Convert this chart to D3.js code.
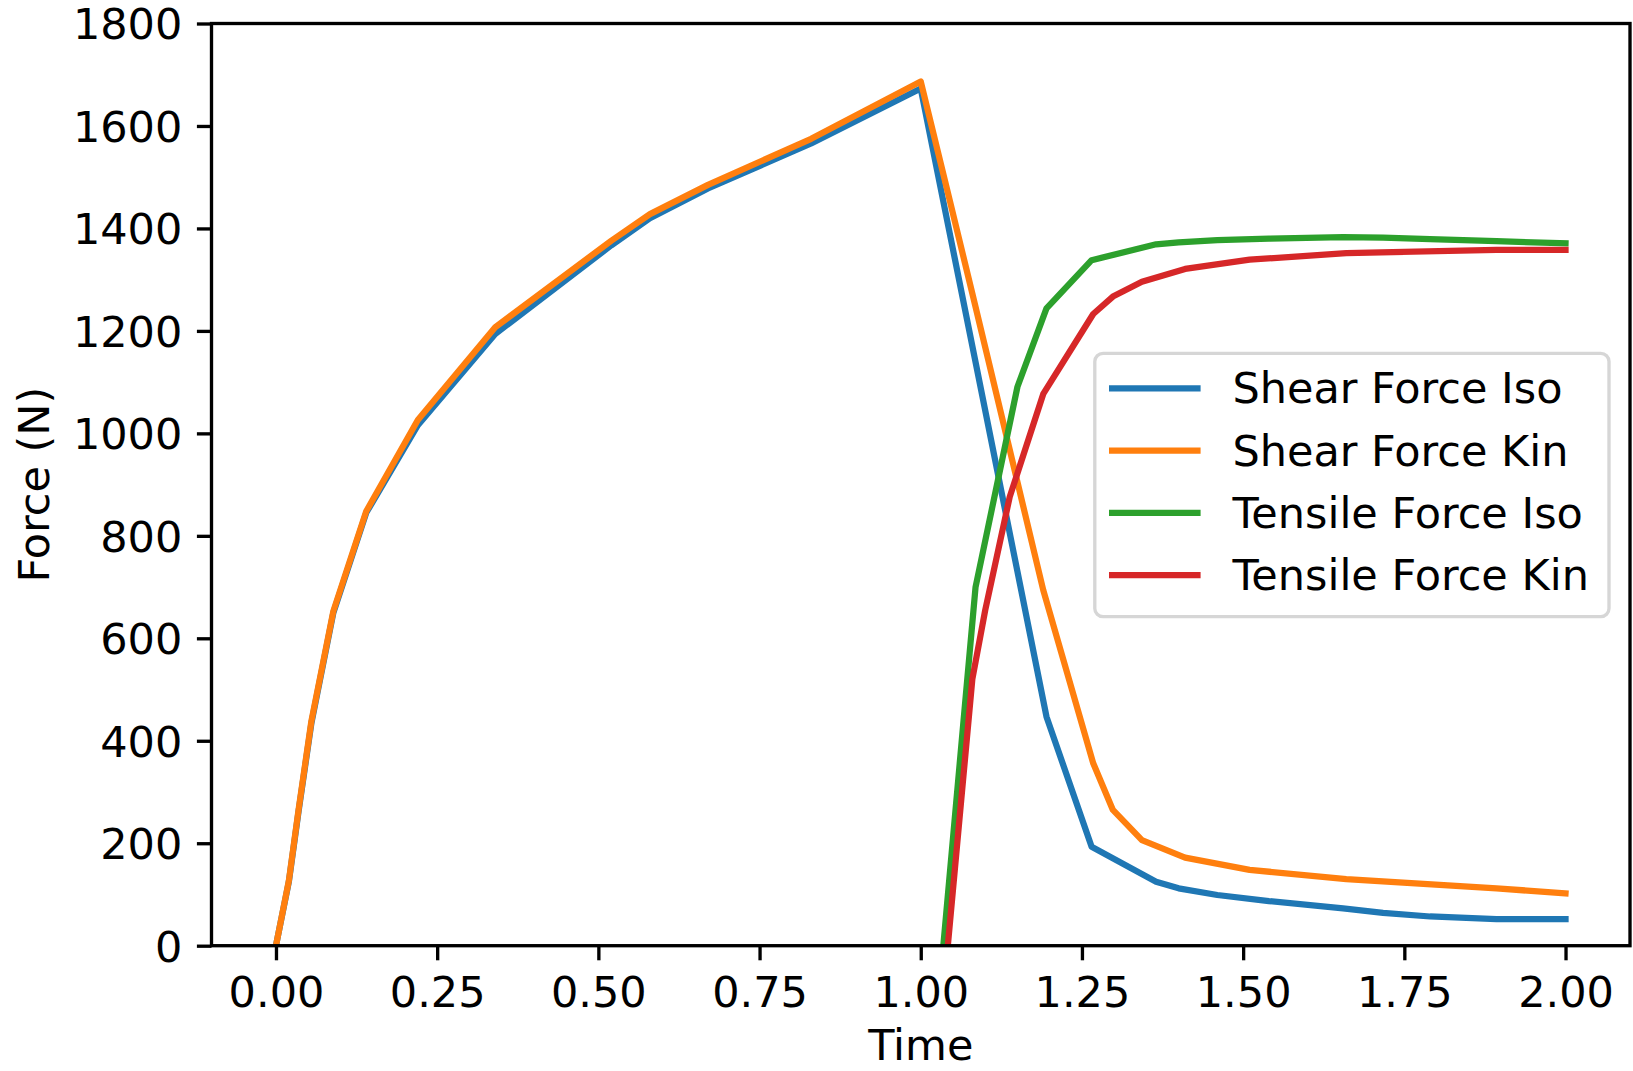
<!DOCTYPE html>
<html>
<head>
<meta charset="utf-8">
<script src="https://cdn.jsdelivr.net/npm/d3@7"></script>
<style>
  html, body { margin: 0; padding: 0; background: #ffffff; }
  svg { display: block; }
  text { font-family: "DejaVu Sans", sans-serif; fill: #000; }
</style>
</head>
<body>
<svg id="chart" width="1633" height="1071"></svg>
<script>
// Force histories for the isotropic and kinematic hardening runs
const timeIso = [0, 0.02, 0.035, 0.055, 0.089, 0.14, 0.22, 0.34, 0.52, 0.58, 0.67, 0.83, 1.0,
                 1.035, 1.085, 1.15, 1.195, 1.265, 1.365, 1.40, 1.46, 1.54, 1.655, 1.717, 1.79, 1.893, 2.0];
const shearIso = [0, 125, 262, 435, 650, 845, 1016, 1194, 1367, 1420, 1478, 1566, 1673,
                  1453, 1139, 730, 447, 193, 125, 112, 99, 87, 73, 64, 57, 52, 52];
const tensileIso = [null, null, null, null, null, null, null, null, null, null, null, null, null,
                    0, 700, 1091, 1244, 1338, 1369, 1373, 1377, 1380, 1383, 1382, 1379, 1375, 1371];

const timeKin = [0, 0.02, 0.035, 0.055, 0.089, 0.14, 0.22, 0.34, 0.52, 0.58, 0.67, 0.83, 1.0,
                 1.042, 1.08, 1.1, 1.138, 1.19, 1.2675, 1.298, 1.343, 1.41, 1.51, 1.66, 1.893, 2.0];
const shearKin = [0, 127, 265, 439, 653, 848, 1026, 1207, 1376, 1428, 1485, 1575, 1687,
                  1470, 1273, 1168, 968, 694, 356, 265, 206, 172, 148, 130, 112, 102];
const tensileKin = [null, null, null, null, null, null, null, null, null, null, null, null, null,
                    0, 520, 655, 876, 1077, 1233, 1267, 1296, 1321, 1339, 1352, 1358, 1358];

const seriesNames = ["Shear Force Iso", "Shear Force Kin", "Tensile Force Iso", "Tensile Force Kin"];
const seriesColors = ["#1f77b4", "#ff7f0e", "#2ca02c", "#d62728"];

const xTicks = [0, 0.25, 0.5, 0.75, 1.0, 1.25, 1.5, 1.75, 2.0];
const yTicks = [0, 200, 400, 600, 800, 1000, 1200, 1400, 1600, 1800];

const xLabel = "Time";
const yLabel = "Force (N)";

// ---- layout ----
const plot = { left: 211.5, right: 1630, top: 23.5, bottom: 945.7 };
const fontSize = 43;
const spineW = 3.33;
const tickLen = 14.6;
const lineW = 6.25;

const svg = d3.select("#chart");

const x = d3.scaleLinear().domain([-0.1, 2.1]).range([plot.left, plot.right]);
const y = d3.scaleLinear().domain([0, 1800]).range([plot.bottom, plot.top]);

// clip lines to the axes area
svg.append("defs").append("clipPath").attr("id", "plot-clip")
  .append("rect")
  .attr("x", plot.left).attr("y", plot.top)
  .attr("width", plot.right - plot.left).attr("height", plot.bottom - plot.top);

const series = [
  { t: timeIso, v: shearIso },
  { t: timeKin, v: shearKin },
  { t: timeIso, v: tensileIso },
  { t: timeKin, v: tensileKin }
];

const line = d3.line()
  .defined(d => d[1] !== null)
  .x(d => x(d[0]))
  .y(d => y(d[1]));

const lines = svg.append("g").attr("clip-path", "url(#plot-clip)");
series.forEach((s, i) => {
  const pts = s.t.map((t, k) => [t, s.v[k]]);
  lines.append("path")
    .datum(pts)
    .attr("d", line)
    .attr("fill", "none")
    .attr("stroke", seriesColors[i])
    .attr("stroke-width", lineW)
    .attr("stroke-linejoin", "round")
    .attr("stroke-linecap", "square");
});

// ---- axes ----
const xAxis = d3.axisBottom(x)
  .tickValues(xTicks)
  .tickFormat(d3.format(".2f"))
  .tickSizeInner(tickLen)
  .tickSizeOuter(0)
  .tickPadding(14.6);

const yAxis = d3.axisLeft(y)
  .tickValues(yTicks)
  .tickFormat(d3.format("d"))
  .tickSizeInner(tickLen)
  .tickSizeOuter(0)
  .tickPadding(14.6);

const gx = svg.append("g")
  .attr("transform", `translate(0,${plot.bottom})`)
  .call(xAxis);
const gy = svg.append("g")
  .attr("transform", `translate(${plot.left},0)`)
  .call(yAxis);

[gx, gy].forEach(g => {
  g.select(".domain").remove();
  g.selectAll(".tick line").attr("stroke", "#000").attr("stroke-width", spineW);
  g.selectAll(".tick text")
    .attr("font-family", "DejaVu Sans, sans-serif")
    .attr("font-size", fontSize)
    .attr("fill", "#000");
});
gx.selectAll(".tick text").attr("dy", null).attr("y", tickLen + 14.6)
  .attr("dominant-baseline", "hanging");
gy.selectAll(".tick text").attr("dy", "0.36em");

// spines on all four sides
svg.append("rect")
  .attr("x", plot.left).attr("y", plot.top)
  .attr("width", plot.right - plot.left).attr("height", plot.bottom - plot.top)
  .attr("fill", "none")
  .attr("stroke", "#000")
  .attr("stroke-width", spineW)
  .attr("stroke-linecap", "square");

// axis titles
svg.append("text")
  .attr("x", (plot.left + plot.right) / 2)
  .attr("y", 1060)
  .attr("text-anchor", "middle")
  .attr("font-size", fontSize)
  .text(xLabel);

svg.append("text")
  .attr("transform", `translate(49,${(plot.top + plot.bottom) / 2}) rotate(-90)`)
  .attr("text-anchor", "middle")
  .attr("font-size", fontSize)
  .text(yLabel);

// ---- legend ----
const legend = { x0: 1094.8, y0: 353.3, x1: 1609, y1: 616.7 };
const lg = svg.append("g");
lg.append("rect")
  .attr("x", legend.x0).attr("y", legend.y0)
  .attr("width", legend.x1 - legend.x0).attr("height", legend.y1 - legend.y0)
  .attr("rx", 8.3).attr("ry", 8.3)
  .attr("fill", "rgba(255,255,255,0.8)")
  .attr("stroke", "#d6d6d6")
  .attr("stroke-width", spineW);

const rowY = d3.scaleLinear().domain([0, 3]).range([388.3, 575]);
seriesNames.forEach((name, i) => {
  const yy = rowY(i);
  lg.append("line")
    .attr("x1", 1109).attr("x2", 1200.6)
    .attr("y1", yy).attr("y2", yy)
    .attr("stroke", seriesColors[i])
    .attr("stroke-width", lineW);
  lg.append("text")
    .attr("x", 1232.4)
    .attr("y", yy + 15)
    .attr("font-size", fontSize)
    .text(name);
});
</script>
</body>
</html>
